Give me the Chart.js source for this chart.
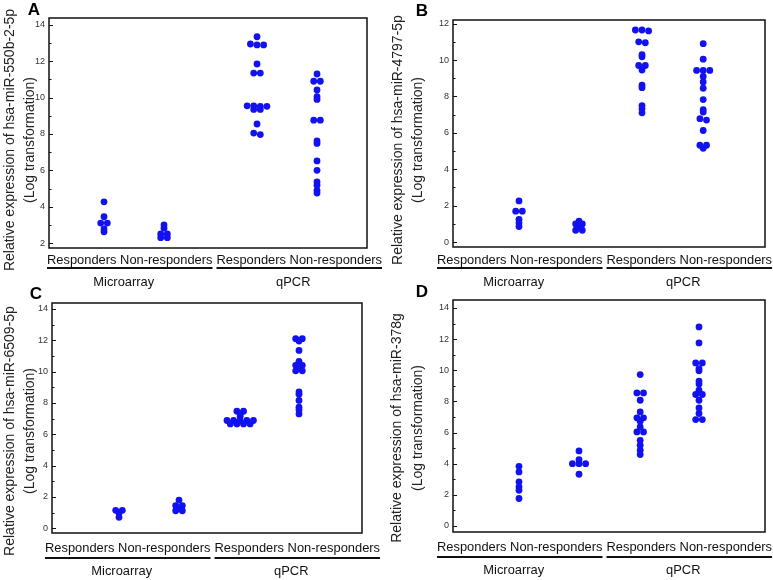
<!DOCTYPE html>
<html>
<head>
<meta charset="utf-8">
<script src="https://cdn.jsdelivr.net/npm/chart.js@4.4.1/dist/chart.umd.min.js"></script>
<style>
    body { margin: 0; background: #fff; }
    #wrap { position: relative; width: 773px; height: 580px; overflow: hidden; }
    #wrap canvas { position: absolute; }
</style>
</head>
<body>
<div id="wrap">
    <canvas id="chartA" width="385" height="292" style="left:0;top:0"></canvas>
    <canvas id="chartB" width="388" height="292" style="left:385px;top:0"></canvas>
    <canvas id="chartC" width="385" height="295" style="left:0;top:285px"></canvas>
    <canvas id="chartD" width="388" height="295" style="left:385px;top:285px"></canvas>
</div>
<script>
// categories and groups
var categories = ['Responders', 'Non-responders', 'Responders', 'Non-responders'];
var groups = ['Microarray', 'qPCR'];

// y-axis titles
var titleA = ['Relative expression of hsa-miR-550b-2-5p', '(Log transformation)'];
var titleB = ['Relative expression of hsa-miR-4797-5p', '(Log transformation)'];
var titleC = ['Relative expression of hsa-miR-6509-5p', '(Log transformation)'];
var titleD = ['Relative expression of hsa-miR-378g', '(Log transformation)'];

// tick labels
var ticksA = [2, 4, 6, 8, 10, 12, 14];
var ticksB = [0, 2, 4, 6, 8, 10, 12];
var ticksCD = [0, 2, 4, 6, 8, 10, 12, 14];

// hsa-miR-550b-2-5p
var mir550bMicroResp = [4.27, 3.45, 3.1, 3.1, 2.78, 2.62];
var mir550bMicroNon = [3.0, 2.82, 2.5, 2.5, 2.3, 2.3];
var mir550bQpcrResp = [13.35, 12.95, 12.9, 12.9, 11.85, 11.35, 11.35, 9.55, 9.55, 9.52, 9.52, 9.35, 9.35, 8.55, 8.05, 7.97];
var mir550bQpcrNon = [11.3, 10.9, 10.9, 10.42, 10.05, 9.9, 8.76, 8.76, 7.62, 7.48, 6.52, 6.0, 5.36, 5.18, 4.9, 4.75];

// hsa-miR-4797-5p
var mir4797MicroResp = [2.26, 1.7, 1.7, 1.25, 1.05, 0.85];
var mir4797MicroNon = [1.15, 1.0, 1.0, 0.88, 0.65, 0.65];
var mir4797QpcrResp = [11.65, 11.65, 11.6, 11.0, 10.95, 10.3, 10.18, 9.7, 9.7, 9.45, 8.62, 8.48, 7.5, 7.32, 7.1];
var mir4797QpcrNon = [10.9, 10.05, 9.43, 9.43, 9.43, 9.1, 8.8, 8.45, 7.83, 7.28, 7.14, 6.78, 6.7, 6.13, 5.32, 5.32, 5.15];

// hsa-miR-6509-5p
var mir6509MicroResp = [1.15, 1.15, 0.98, 0.7];
var mir6509MicroNon = [1.8, 1.45, 1.45, 1.28, 1.12, 1.12];
var mir6509QpcrResp = [7.47, 7.47, 7.3, 7.15, 6.88, 6.88, 6.88, 6.88, 6.88, 6.66, 6.66, 6.66, 6.66];
var mir6509QpcrNon = [12.1, 12.1, 11.95, 11.35, 10.66, 10.4, 10.4, 10.2, 10.05, 10.05, 8.7, 8.55, 8.16, 7.73, 7.56, 7.3];

// hsa-miR-378g
var mir378gMicroResp = [3.83, 3.47, 2.83, 2.5, 2.29, 1.76];
var mir378gMicroNon = [4.82, 4.25, 4.0, 4.0, 4.0, 3.32];
var mir378gQpcrResp = [9.72, 8.54, 8.54, 8.07, 7.32, 6.94, 6.94, 6.72, 6.36, 6.04, 6.04, 5.5, 5.18, 4.86, 4.58];
var mir378gQpcrNon = [12.78, 11.75, 10.47, 10.47, 10.1, 9.96, 9.3, 9.12, 8.72, 8.44, 8.44, 8.07, 7.58, 7.22, 6.83, 6.83];

var FONT = '"Liberation Sans", Arial, sans-serif';
var DOT = 'rgb(18,18,240)';

// beeswarm: values at (nearly) the same height are spread sideways
function swarm(values, center, pxX, pxY) {
    var sorted = values.slice().sort(function(a, b) { return b - a; });
    var pts = [];
    var row = [];
    function flush() {
        for (var i = 0; i < row.length; i++) {
            pts.push({ x: center + (i - (row.length - 1) / 2) * 6.6 / pxX, y: row[i] });
        }
        row = [];
    }
    sorted.forEach(function(v) {
        if (row.length && (row[0] - v) * pxY > 2) flush();
        row.push(v);
    });
    flush();
    return pts;
}

var panelPlugin = {
    id: 'panelDecor',
    afterDraw: function(chart) {
        var p = chart.options.plugins.panelDecor;
        var ctx = chart.ctx;
        var a = chart.chartArea;
        var ys = chart.scales.y;
        ctx.save();

        // frame
        ctx.strokeStyle = '#111';
        ctx.lineWidth = 1.5;
        ctx.strokeRect(a.left, a.top, a.right - a.left, a.bottom - a.top);

        // inward tick marks, with minor ticks halfway
        ctx.lineWidth = 1;
        ys.ticks.forEach(function(t) {
            var y = Math.round(ys.getPixelForValue(t.value)) + 0.5;
            ctx.beginPath(); ctx.moveTo(a.left, y); ctx.lineTo(a.left + 4, y); ctx.stroke();
            var m = t.value + 1;
            if (m < ys.max) {
                var ym = Math.round(ys.getPixelForValue(m)) + 0.5;
                ctx.beginPath(); ctx.moveTo(a.left, ym); ctx.lineTo(a.left + 2.5, ym); ctx.stroke();
            }
        });

        // category labels and group lines
        ctx.fillStyle = '#111';
        ctx.font = '12.9px ' + FONT;
        ctx.textBaseline = 'middle';
        var x = p.rowX;
        for (var g = 0; g < 2; g++) {
            ctx.textAlign = 'left';
            var txt = categories[g * 2] + ' ' + categories[g * 2 + 1];
            var w = ctx.measureText(txt).width;
            ctx.fillText(txt, x, p.rowY);
            ctx.lineWidth = 2;
            ctx.beginPath(); ctx.moveTo(x, p.lineY); ctx.lineTo(x + w, p.lineY); ctx.stroke();
            ctx.textAlign = 'center';
            ctx.fillText(groups[g], x + w / 2 - 6, p.groupY);
            x += w + 4;
        }

        // y title
        ctx.font = '14px ' + FONT;
        ctx.fillStyle = '#222';
        ctx.textAlign = 'center';
        p.title.forEach(function(line, i) {
            ctx.save();
            ctx.translate(p.titleX[i], p.titleCY);
            ctx.rotate(-Math.PI / 2);
            ctx.fillText(line, 0, 0);
            ctx.restore();
        });

        // panel letter
        ctx.font = 'bold 17px ' + FONT;
        ctx.fillStyle = '#000';
        ctx.fillText(p.letter, p.letterX, p.letterY);
        ctx.restore();
    }
};

function makePanel(id, layout, series, ticks, title, letter) {
    var c = layout.canvas;
    var a = layout.area;
    var pxX = (a.right - a.left) / (layout.x[1] - layout.x[0]);
    var pxY = (a.bottom - a.top) / (layout.y[1] - layout.y[0]);
    var datasets = series.map(function(vals, i) {
        return {
            data: swarm(vals, layout.cats[i], pxX, pxY),
            backgroundColor: DOT,
            borderColor: DOT,
            borderWidth: 0,
            pointRadius: 3.4
        };
    });
    new Chart(document.getElementById(id), {
        type: 'scatter',
        data: { datasets: datasets },
        plugins: [panelPlugin],
        options: {
            responsive: false,
            animation: false,
            layout: {
                padding: {
                    left: 0,
                    top: a.top - c.top,
                    right: c.left + c.width - a.right,
                    bottom: c.top + c.height - a.bottom
                }
            },
            plugins: {
                legend: { display: false },
                tooltip: { enabled: false },
                panelDecor: {
                    title: title,
                    letter: letter,
                    titleX: layout.titleX.map(function(v) { return v - c.left; }),
                    titleCY: layout.titleCY - c.top,
                    letterX: layout.letter[0] - c.left,
                    letterY: layout.letter[1] - c.top,
                    rowX: layout.rowX - c.left,
                    rowY: layout.rowY - c.top,
                    lineY: layout.lineY - c.top,
                    groupY: layout.groupY - c.top
                }
            },
            scales: {
                x: { type: 'linear', display: false, min: layout.x[0], max: layout.x[1] },
                y: {
                    min: layout.y[0],
                    max: layout.y[1],
                    afterFit: function(s) { s.width = a.left - c.left; },
                    afterBuildTicks: function(s) { s.ticks = ticks.map(function(v) { return { value: v }; }); },
                    grid: { display: false, drawTicks: false },
                    border: { display: false },
                    ticks: { font: { size: 9, family: FONT }, color: '#333', padding: 4 }
                }
            }
        }
    });
}

makePanel('chartA', {
    canvas: { left: 0, top: 0, width: 385, height: 292 },
    area: { left: 49, top: 18, right: 367, bottom: 248 },
    y: [1.73, 14.38], x: [0.083, 5.383], cats: [1, 2, 3.55, 4.55],
    rowX: 47, rowY: 260, lineY: 268, groupY: 282,
    titleX: [10, 30], titleCY: 140, letter: [34, 10]
}, [mir550bMicroResp, mir550bMicroNon, mir550bQpcrResp, mir550bQpcrNon], ticksA, titleA, 'A');

makePanel('chartB', {
    canvas: { left: 385, top: 0, width: 388, height: 292 },
    area: { left: 453, top: 20, right: 765, bottom: 247 },
    y: [-0.27, 12.2], x: [-0.1, 5.1], cats: [1, 2, 3.05, 4.07],
    rowX: 437, rowY: 260, lineY: 268, groupY: 282,
    titleX: [398, 418], titleCY: 140, letter: [422, 11]
}, [mir4797MicroResp, mir4797MicroNon, mir4797QpcrResp, mir4797QpcrNon], ticksB, titleB, 'B');

makePanel('chartC', {
    canvas: { left: 0, top: 285, width: 385, height: 295 },
    area: { left: 52, top: 303, right: 362, bottom: 533 },
    y: [-0.3, 14.38], x: [-0.117, 5.05], cats: [1, 2, 3.02, 4.0],
    rowX: 45, rowY: 548, lineY: 558, groupY: 571,
    titleX: [10, 30], titleCY: 431, letter: [36, 294]
}, [mir6509MicroResp, mir6509MicroNon, mir6509QpcrResp, mir6509QpcrNon], ticksCD, titleC, 'C');

makePanel('chartD', {
    canvas: { left: 385, top: 285, width: 388, height: 295 },
    area: { left: 453, top: 300, right: 765, bottom: 532 },
    y: [-0.39, 14.51], x: [-0.1, 5.1], cats: [1, 2, 3.02, 4.0],
    rowX: 437, rowY: 547, lineY: 557, groupY: 570,
    titleX: [397, 418], titleCY: 428, letter: [422, 292]
}, [mir378gMicroResp, mir378gMicroNon, mir378gQpcrResp, mir378gQpcrNon], ticksCD, titleD, 'D');
</script>
</body>
</html>
